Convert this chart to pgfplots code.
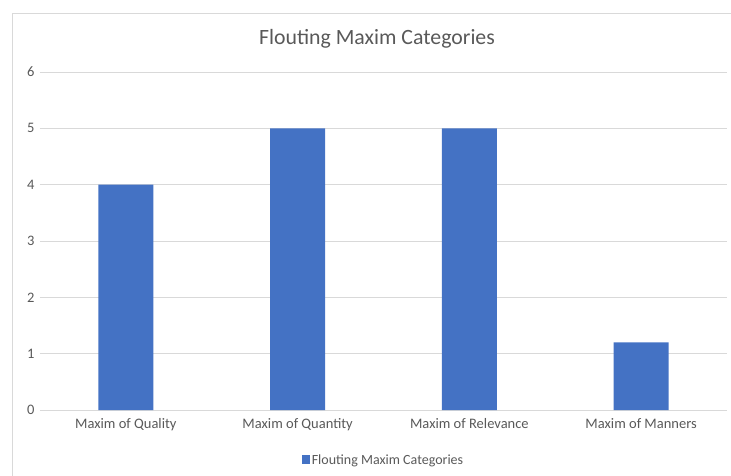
\documentclass[border=0pt]{standalone}
\usepackage{pgfplots}
\pgfplotsset{compat=1.18}
\usepackage{fontspec}
\setmainfont{Carlito}
\definecolor{barblue}{HTML}{4472C4}
\definecolor{txt}{HTML}{595959}
\definecolor{gridc}{HTML}{D9D9D9}
\begin{document}
\begin{tikzpicture}[x=1pt,y=1pt]
\path[use as bounding box] (0,0) rectangle (731,475);
\begin{scope}
\clip (0,0) rectangle (731,475);
\draw[gridc, line width=1pt] (12.5,-10) -- (12.5,461) -- (760,461);
\end{scope}
\node[text=txt, font=\fontsize{21.8}{25}\selectfont] at (377,436) {Flouting Maxim Categories};
\begin{axis}[
  at={(40pt,65pt)}, anchor=south west,
  scale only axis, width=687pt, height=338pt,
  xmin=-0.5, xmax=3.5, ymin=0, ymax=6,
  ytick={0,1,2,3,4,5,6},
  xtick={0,1,2,3},
  xticklabels={Maxim of Quality, Maxim of Quantity, Maxim of Relevance, Maxim of Manners},
  /pgf/number format/assume math mode=true,
  ymajorgrids, grid style={gridc, line width=1pt},
  axis line style={draw=none},
  axis x line*=bottom,
  x axis line style={gridc, line width=1pt},
  tick style={draw=none},
  ticklabel style={text=txt, font=\fontsize{14.5}{16}\selectfont},
  yticklabel style={xshift=-2pt},
  xticklabel style={yshift=-5pt},
  legend style={at={(0.5,-0.148)}, anchor=center, draw=none, fill=none,
    font=\fontsize{14}{16}\selectfont, text=txt},
  legend image code/.code={\fill[barblue] (0cm,-4pt) rectangle (8pt,5pt);},
]
\addplot[ybar, bar width=55pt, fill=barblue, draw=none] coordinates {(0,4) (1,5) (2,5) (3,1.2)};
\addlegendentry{Flouting Maxim Categories}
\end{axis}
\end{tikzpicture}
\end{document}
